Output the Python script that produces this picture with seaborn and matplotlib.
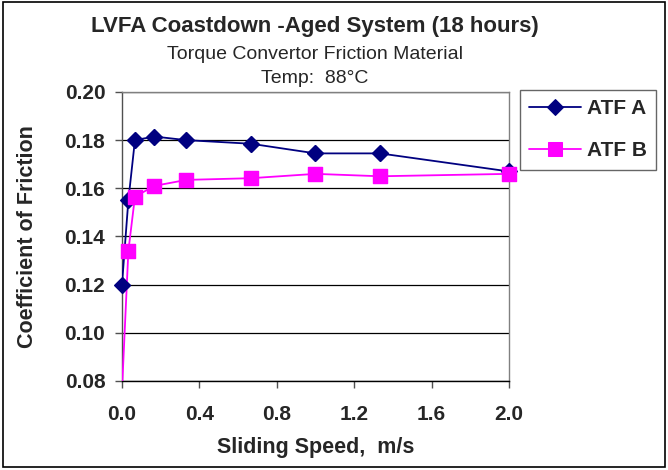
import matplotlib
matplotlib.use("Agg")
import matplotlib.pyplot as plt
import seaborn as sns
import pandas as pd
from matplotlib.patches import Rectangle

# Sliding speed (m/s) and coefficient of friction per fluid
speed = [0.0, 0.033, 0.067, 0.167, 0.333, 0.667, 1.0, 1.333, 2.0]
atf_a = [0.120, 0.155, 0.180, 0.1815, 0.180, 0.1785, 0.1745, 0.1745, 0.167]
atf_b = [0.076, 0.134, 0.1565, 0.161, 0.1635, 0.1642, 0.166, 0.165, 0.166]
series_names = ["ATF A", "ATF B"]
x_ticks = [0.0, 0.4, 0.8, 1.2, 1.6, 2.0]
y_ticks = [0.08, 0.10, 0.12, 0.14, 0.16, 0.18, 0.20]
y_min, y_max = 0.08, 0.20

df = pd.DataFrame({
    "speed": speed * 2,
    "cof": atf_a + atf_b,
    "fluid": [series_names[0]] * len(speed) + [series_names[1]] * len(speed),
})

sns.set_style("white")
plt.rcParams["font.family"] = ["Liberation Sans", "DejaVu Sans"]

fig = plt.figure(figsize=(6.68, 4.70), dpi=100)
ax = fig.add_axes([0.1826, 0.1894, 0.5794, 0.6149])

colors = {"ATF A": "#000080", "ATF B": "#FF00FF"}
markers = {"ATF A": "D", "ATF B": "s"}
sizes = {"ATF A": 8, "ATF B": 9.5}
for name in series_names:
    sub = df[df["fluid"] == name]
    # connecting line, clipped to the plot area
    sns.lineplot(data=sub, x="speed", y="cof", ax=ax, sort=False,
                 color=colors[name], marker=markers[name],
                 markersize=sizes[name], markeredgecolor=colors[name],
                 linewidth=1.3, label=name, zorder=3)
    # markers inside the value range stay whole at the plot edges
    inside = sub[(sub["cof"] >= y_min) & (sub["cof"] <= y_max)]
    sns.scatterplot(data=inside, x="speed", y="cof", ax=ax, color=colors[name],
                    marker=markers[name], s=(sizes[name]) ** 2,
                    edgecolor=colors[name], linewidth=1, zorder=4,
                    clip_on=False, legend=False)

ax.set_xlim(0, 2.0)
ax.set_ylim(y_min, y_max)
ax.set_xticks(x_ticks)
ax.set_yticks(y_ticks)
ax.set_xticklabels([f"{v:.1f}" for v in x_ticks], fontsize=15, fontweight="bold")
ax.set_yticklabels([f"{v:.2f}" for v in y_ticks], fontsize=15, fontweight="bold")
ax.grid(axis="y", color="black", linewidth=0.9, zorder=0)
ax.set_axisbelow(True)
for side in ["top", "right", "left"]:
    ax.spines[side].set_color("#808080")
    ax.spines[side].set_linewidth(1.0)
ax.spines["left"].set_color("#505050")
ax.spines["bottom"].set_color("black")
ax.spines["bottom"].set_linewidth(1.0)
ax.tick_params(axis="both", direction="out", length=5, width=1, color="#505050",
               bottom=True, left=True)
ax.tick_params(axis="y", pad=7)
ax.tick_params(axis="x", pad=12)

ax.set_xlabel("Sliding Speed,  m/s", fontsize=15.5, fontweight="bold", labelpad=10)
ax.set_ylabel("Coefficient of Friction", fontsize=15.5, fontweight="bold", labelpad=19)

cx = 0.4716
fig.text(cx, 0.944, "LVFA Coastdown -Aged System (18 hours)", ha="center",
         va="center", fontsize=16, fontweight="bold")
fig.text(cx, 0.885, "Torque Convertor Friction Material", ha="center",
         va="center", fontsize=14)
fig.text(cx, 0.832, "Temp:  88°C", ha="center", va="center", fontsize=14)

leg = ax.legend(loc="upper left", bbox_to_anchor=(0.7784, 0.8085),
                bbox_transform=fig.transFigure, borderaxespad=0,
                frameon=True, fancybox=False,
                edgecolor="#404040", fontsize=15, handlelength=2.5,
                borderpad=0.45, labelspacing=1.1, handletextpad=0.25)
for t in leg.get_texts():
    t.set_fontweight("bold")
leg.get_frame().set_linewidth(1.0)

fig.patches.append(Rectangle((0.004, 0.006), 0.992, 0.99, transform=fig.transFigure,
                             fill=False, edgecolor="black", linewidth=1.2))

fig.savefig("out.png", dpi=100)
